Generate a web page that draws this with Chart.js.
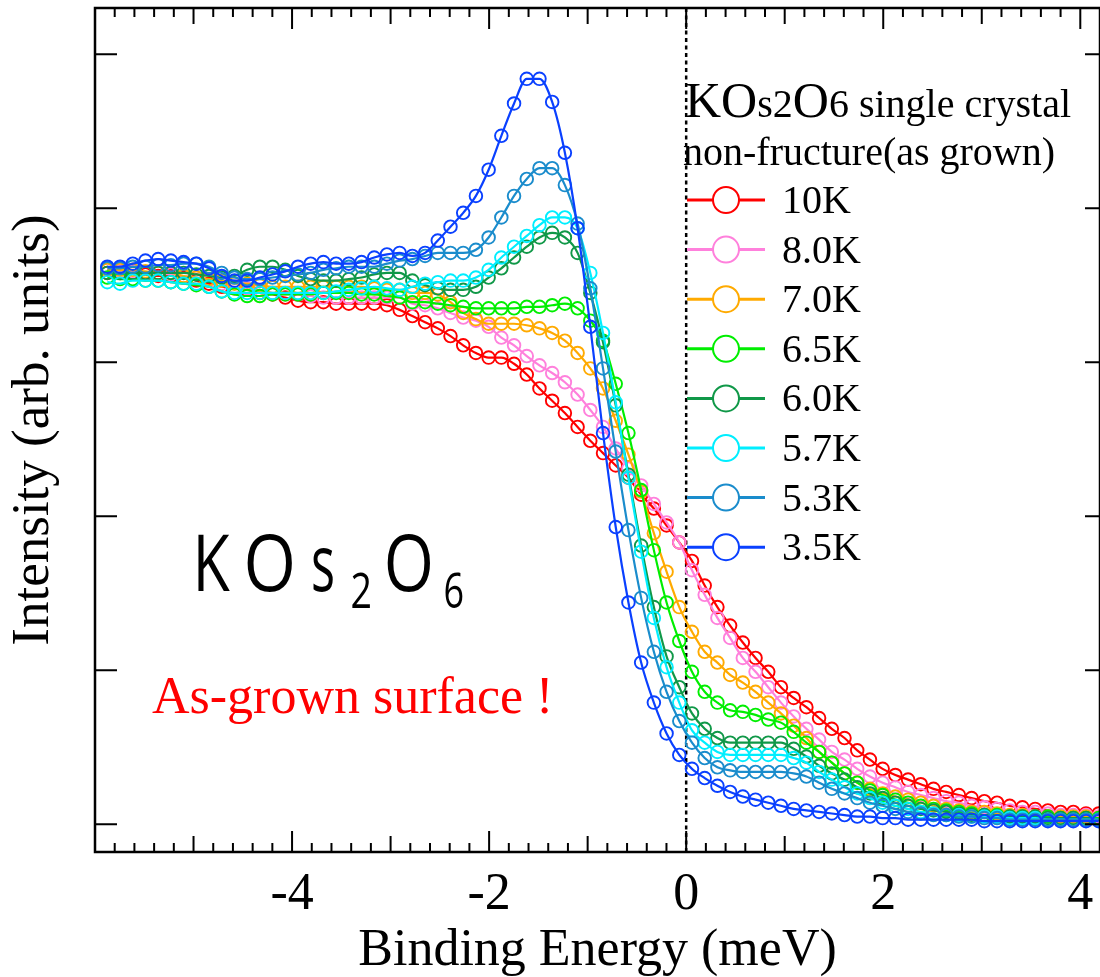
<!DOCTYPE html>
<html lang="en">
<head>
<meta charset="UTF-8" />
<title>KOs2O6 - Binding Energy</title>
<script src="https://cdn.jsdelivr.net/npm/chart.js"></script>
<style>
  html, body { margin: 0; padding: 0; background: #fff; }
</style>
</head>
<body>
<canvas id="spectra" width="1100" height="977"></canvas>
<script>
// binding energy of each measured point (meV)
const energy = [-5.875, -5.746, -5.617, -5.488, -5.359, -5.230, -5.101, -4.972, -4.843, -4.714,
  -4.585, -4.456, -4.327, -4.198, -4.069, -3.940, -3.811, -3.682, -3.553, -3.424,
  -3.295, -3.166, -3.037, -2.908, -2.779, -2.650, -2.521, -2.392, -2.263, -2.134,
  -2.005, -1.876, -1.747, -1.618, -1.489, -1.360, -1.231, -1.102, -0.973, -0.844,
  -0.715, -0.586, -0.457, -0.328, -0.199, -0.070, 0.059, 0.188, 0.317, 0.446,
  0.575, 0.704, 0.833, 0.962, 1.091, 1.220, 1.349, 1.478, 1.607, 1.736,
  1.865, 1.994, 2.123, 2.252, 2.381, 2.510, 2.639, 2.768, 2.897, 3.026,
  3.155, 3.284, 3.413, 3.542, 3.671, 3.800, 3.929, 4.058, 4.187];

const temps = ["10K", "8.0K", "7.0K", "6.5K", "6.0K", "5.7K", "5.3K", "3.5K"];
const colors = ["#ff0000", "#ff80dc", "#ffaa00", "#00ee00", "#109848", "#00eeff", "#1a8ccc", "#0a40ff"];

const i10K = [3.58, 3.58, 3.58, 3.57, 3.56, 3.56, 3.55, 3.53, 3.51, 3.49,
  3.48, 3.47, 3.45, 3.44, 3.42, 3.40, 3.39, 3.39, 3.38, 3.38,
  3.38, 3.38, 3.37, 3.34, 3.30, 3.26, 3.22, 3.17, 3.11, 3.06,
  3.03, 3.03, 2.99, 2.92, 2.83, 2.75, 2.67, 2.58, 2.49, 2.41,
  2.33, 2.25, 2.14, 2.05, 1.94, 1.83, 1.71, 1.55, 1.41, 1.29,
  1.18, 1.08, 0.99, 0.89, 0.82, 0.76, 0.69, 0.62, 0.56, 0.48,
  0.42, 0.36, 0.32, 0.29, 0.26, 0.23, 0.21, 0.19, 0.17, 0.15,
  0.14, 0.12, 0.11, 0.10, 0.09, 0.08, 0.08, 0.07, 0.07];
const i8K = [3.60, 3.59, 3.59, 3.58, 3.58, 3.57, 3.56, 3.55, 3.53, 3.51,
  3.49, 3.48, 3.47, 3.45, 3.44, 3.44, 3.43, 3.42, 3.42, 3.42,
  3.42, 3.42, 3.42, 3.42, 3.38, 3.37, 3.35, 3.32, 3.29, 3.27,
  3.23, 3.16, 3.11, 3.04, 2.98, 2.93, 2.87, 2.79, 2.69, 2.58,
  2.44, 2.31, 2.20, 2.08, 1.96, 1.83, 1.65, 1.49, 1.34, 1.21,
  1.08, 0.99, 0.89, 0.79, 0.70, 0.62, 0.55, 0.47, 0.42, 0.36,
  0.31, 0.27, 0.24, 0.21, 0.19, 0.17, 0.15, 0.14, 0.12, 0.11,
  0.10, 0.09, 0.08, 0.08, 0.07, 0.06, 0.06, 0.06, 0.05];
const i7K = [3.60, 3.60, 3.60, 3.59, 3.58, 3.58, 3.56, 3.55, 3.54, 3.53,
  3.51, 3.51, 3.50, 3.49, 3.49, 3.49, 3.49, 3.49, 3.49, 3.49,
  3.49, 3.48, 3.47, 3.47, 3.45, 3.45, 3.44, 3.39, 3.32, 3.28,
  3.25, 3.25, 3.25, 3.24, 3.22, 3.19, 3.14, 3.06, 2.96, 2.83,
  2.62, 2.40, 2.16, 1.89, 1.64, 1.41, 1.25, 1.12, 1.05, 0.97,
  0.92, 0.86, 0.79, 0.72, 0.64, 0.56, 0.47, 0.40, 0.33, 0.27,
  0.23, 0.20, 0.18, 0.16, 0.14, 0.12, 0.10, 0.09, 0.08, 0.08,
  0.07, 0.06, 0.06, 0.05, 0.05, 0.05, 0.05, 0.05, 0.04];
const i65K = [3.55, 3.54, 3.54, 3.53, 3.53, 3.52, 3.51, 3.50, 3.49, 3.46,
  3.44, 3.43, 3.43, 3.44, 3.44, 3.44, 3.44, 3.45, 3.45, 3.45,
  3.44, 3.44, 3.43, 3.42, 3.39, 3.39, 3.38, 3.37, 3.36, 3.35,
  3.35, 3.35, 3.35, 3.36, 3.36, 3.37, 3.38, 3.35, 3.27, 3.14,
  2.86, 2.54, 2.17, 1.78, 1.44, 1.19, 0.99, 0.86, 0.79, 0.74,
  0.73, 0.71, 0.68, 0.66, 0.60, 0.53, 0.47, 0.40, 0.33, 0.27,
  0.22, 0.19, 0.16, 0.14, 0.12, 0.10, 0.09, 0.08, 0.07, 0.06,
  0.06, 0.05, 0.05, 0.05, 0.05, 0.04, 0.04, 0.04, 0.04];
const i6K = [3.58, 3.58, 3.58, 3.58, 3.58, 3.58, 3.58, 3.57, 3.56, 3.55,
  3.56, 3.60, 3.62, 3.62, 3.60, 3.56, 3.54, 3.53, 3.53, 3.54,
  3.55, 3.57, 3.58, 3.58, 3.53, 3.50, 3.48, 3.47, 3.47, 3.49,
  3.55, 3.61, 3.68, 3.75, 3.81, 3.84, 3.81, 3.71, 3.45, 3.13,
  2.72, 2.27, 1.81, 1.41, 1.09, 0.89, 0.72, 0.62, 0.56, 0.53,
  0.53, 0.53, 0.53, 0.53, 0.49, 0.44, 0.38, 0.33, 0.29, 0.24,
  0.20, 0.17, 0.14, 0.12, 0.10, 0.09, 0.08, 0.07, 0.06, 0.06,
  0.05, 0.05, 0.05, 0.05, 0.04, 0.04, 0.04, 0.04, 0.03];
const i57K = [3.52, 3.51, 3.53, 3.53, 3.53, 3.52, 3.51, 3.51, 3.49, 3.46,
  3.45, 3.45, 3.45, 3.45, 3.45, 3.45, 3.45, 3.45, 3.46, 3.47,
  3.48, 3.49, 3.48, 3.47, 3.49, 3.51, 3.52, 3.53, 3.53, 3.55,
  3.60, 3.68, 3.75, 3.82, 3.89, 3.94, 3.94, 3.87, 3.58, 3.19,
  2.74, 2.25, 1.77, 1.34, 1.02, 0.79, 0.61, 0.53, 0.47, 0.45,
  0.45, 0.45, 0.45, 0.45, 0.43, 0.40, 0.34, 0.29, 0.24, 0.20,
  0.17, 0.14, 0.12, 0.10, 0.08, 0.07, 0.06, 0.06, 0.05, 0.05,
  0.05, 0.04, 0.04, 0.04, 0.03, 0.03, 0.03, 0.03, 0.03];
const i53K = [3.61, 3.61, 3.62, 3.62, 3.63, 3.63, 3.64, 3.64, 3.62, 3.58,
  3.55, 3.54, 3.54, 3.55, 3.56, 3.57, 3.58, 3.60, 3.61, 3.62,
  3.62, 3.62, 3.64, 3.66, 3.67, 3.69, 3.71, 3.71, 3.71, 3.73,
  3.81, 3.94, 4.08, 4.19, 4.26, 4.26, 4.15, 3.90, 3.48, 2.96,
  2.42, 1.91, 1.47, 1.12, 0.86, 0.67, 0.53, 0.43, 0.37, 0.35,
  0.34, 0.34, 0.34, 0.34, 0.33, 0.31, 0.27, 0.23, 0.20, 0.17,
  0.14, 0.12, 0.10, 0.08, 0.07, 0.06, 0.06, 0.05, 0.05, 0.04,
  0.04, 0.03, 0.03, 0.03, 0.03, 0.03, 0.03, 0.03, 0.03];
const i35K = [3.62, 3.62, 3.64, 3.66, 3.67, 3.66, 3.65, 3.64, 3.61, 3.56,
  3.53, 3.53, 3.55, 3.57, 3.59, 3.62, 3.64, 3.65, 3.64, 3.64,
  3.65, 3.68, 3.70, 3.71, 3.69, 3.71, 3.79, 3.88, 3.97, 4.08,
  4.25, 4.47, 4.68, 4.84, 4.84, 4.69, 4.36, 3.87, 3.23, 2.54,
  1.93, 1.44, 1.05, 0.79, 0.59, 0.45, 0.36, 0.30, 0.25, 0.21,
  0.18, 0.16, 0.14, 0.12, 0.10, 0.09, 0.08, 0.07, 0.06, 0.05,
  0.05, 0.04, 0.04, 0.03, 0.03, 0.03, 0.03, 0.03, 0.03, 0.02,
  0.02, 0.02, 0.02, 0.02, 0.02, 0.02, 0.02, 0.02, 0.02];

const series = [i10K, i8K, i7K, i65K, i6K, i57K, i53K, i35K];
const xLabels = [-4, -2, 0, 2, 4];
const yTicks = [0, 1, 2, 3, 4, 5];

const serif = "'Liberation Serif', 'Times New Roman', serif";

// frame, inward ticks, zero line, legend and labels
const decorations = {
  id: "decorations",
  beforeDatasetsDraw(chart) {
    const { ctx, chartArea: a, scales: { x } } = chart;
    const px = x.getPixelForValue(0);
    ctx.save();
    ctx.strokeStyle = "#000";
    ctx.lineWidth = 2.5;
    ctx.setLineDash([4, 3.5]);
    ctx.beginPath();
    ctx.moveTo(px, a.top);
    ctx.lineTo(px, a.bottom);
    ctx.stroke();
    ctx.restore();
  },
  afterDraw(chart) {
    const { ctx, chartArea: a, scales: { x, y } } = chart;
    ctx.save();
    ctx.strokeStyle = "#000";
    ctx.lineWidth = 2.5;
    ctx.strokeRect(a.left, a.top, a.right - a.left, a.bottom - a.top);

    // x ticks every 0.2 meV, longer every 1 and 2 meV
    ctx.lineWidth = 2;
    for (let i = -29; i <= 20; i++) {
      const v = i / 5;
      const len = i % 10 === 0 ? 21 : i % 5 === 0 ? 16 : 9;
      const p = x.getPixelForValue(v);
      ctx.beginPath();
      ctx.moveTo(p, a.bottom);
      ctx.lineTo(p, a.bottom - len);
      ctx.moveTo(p, a.top);
      ctx.lineTo(p, a.top + len);
      ctx.stroke();
    }
    yTicks.forEach((v) => {
      const p = y.getPixelForValue(v);
      ctx.beginPath();
      ctx.moveTo(a.left, p);
      ctx.lineTo(a.left + 22, p);
      ctx.moveTo(a.right - 15, p);
      ctx.lineTo(a.right, p);
      ctx.stroke();
    });

    // legend title
    ctx.fillStyle = "#000";
    ctx.textBaseline = "alphabetic";
    let tx = 685;
    [["KO", 50], ["s2", 40], ["O", 50], ["6 single crystal", 40]].forEach(([s, size]) => {
      ctx.font = size + "px " + serif;
      ctx.fillText(s, tx, 117);
      tx += ctx.measureText(s).width;
    });
    ctx.font = "40px " + serif;
    ctx.fillText("non-fructure(as grown)", 683, 165);

    // legend rows
    temps.forEach((t, i) => {
      const ry = 200 + i * 49.6;
      ctx.strokeStyle = colors[i];
      ctx.lineWidth = 3;
      ctx.beginPath();
      ctx.moveTo(687, ry);
      ctx.lineTo(765, ry);
      ctx.stroke();
      ctx.fillStyle = "#fff";
      ctx.lineWidth = 2;
      ctx.beginPath();
      ctx.arc(726, ry, 13, 0, Math.PI * 2);
      ctx.fill();
      ctx.stroke();
      ctx.fillStyle = "#000";
      ctx.font = "40px " + serif;
      ctx.fillText(t, 782, ry + 13);
    });

    // big formula label, narrow sans glyphs
    const glyphs = [
      ["K", 198, 230, 591, 78], ["O", 247, 292, 591, 78], ["s", 313, 333, 591, 78],
      ["2", 352, 370, 608, 50], ["O", 387, 430, 591, 78], ["6", 445, 463, 608, 50]
    ];
    ctx.fillStyle = "#000";
    glyphs.forEach(([ch, l, r, base, size]) => {
      ctx.font = size + "px 'Open Sans', sans-serif";
      const m = ctx.measureText(ch);
      const ink = m.actualBoundingBoxLeft + m.actualBoundingBoxRight;
      const sx = (r - l) / ink;
      ctx.save();
      ctx.translate(l + m.actualBoundingBoxLeft * sx, base);
      ctx.scale(sx, 1);
      ctx.fillText(ch, 0, 0);
      ctx.restore();
    });

    ctx.fillStyle = "#ff0000";
    ctx.font = "52px " + serif;
    ctx.fillText("As-grown surface !", 152, 713);
    ctx.restore();
  }
};

new Chart(document.getElementById("spectra").getContext("2d"), {
  type: "line",
  data: {
    datasets: temps.map((t, i) => ({
      label: t,
      data: energy.map((e, j) => ({ x: e, y: series[i][j] })),
      borderColor: colors[i],
      backgroundColor: "rgba(0,0,0,0)",
      borderWidth: 2.2,
      pointRadius: 6.3,
      pointBorderWidth: 1.9,
      pointBorderColor: colors[i],
      pointBackgroundColor: "rgba(0,0,0,0)",
      cubicInterpolationMode: "monotone",
      order: temps.length - i,
    })),
  },
  options: {
    responsive: false,
    animation: false,
    layout: { autoPadding: false, padding: { top: 8, right: 0, left: 0, bottom: 0 } },
    plugins: { legend: { display: false }, tooltip: { enabled: false } },
    scales: {
      x: {
        type: "linear",
        min: -6,
        max: 4.2,
        grid: { display: false, drawTicks: false },
        border: { display: false },
        ticks: {
          font: { family: serif, size: 52, lineHeight: 1.65 },
          color: "#000",
          padding: 0,
          maxRotation: 0,
          autoSkip: false,
        },
        afterBuildTicks: (s) => { s.ticks = xLabels.map((v) => ({ value: v })); },
        afterFit: (s) => {
          s.height = 125;
          s.paddingLeft = 0;
          s.paddingRight = 0;
        },
        title: {
          display: true,
          text: "Binding Energy (meV)",
          font: { family: serif, size: 52, lineHeight: 1 },
          color: "#000",
          padding: 0,
        },
      },
      y: {
        type: "linear",
        min: -0.18,
        max: 5.3,
        grid: { display: false, drawTicks: false },
        border: { display: false },
        ticks: { display: false },
        afterBuildTicks: (s) => { s.ticks = yTicks.map((v) => ({ value: v })); },
        afterFit: (s) => {
          s.width = 95;
          s.paddingTop = 0;
          s.paddingBottom = 0;
        },
        title: {
          display: true,
          text: "Intensity (arb. units)",
          font: { family: serif, size: 53, lineHeight: 1 },
          color: "#000",
          padding: { top: 8, bottom: 0 },
        },
      },
    },
  },
  plugins: [decorations],
});
</script>
</body>
</html>
